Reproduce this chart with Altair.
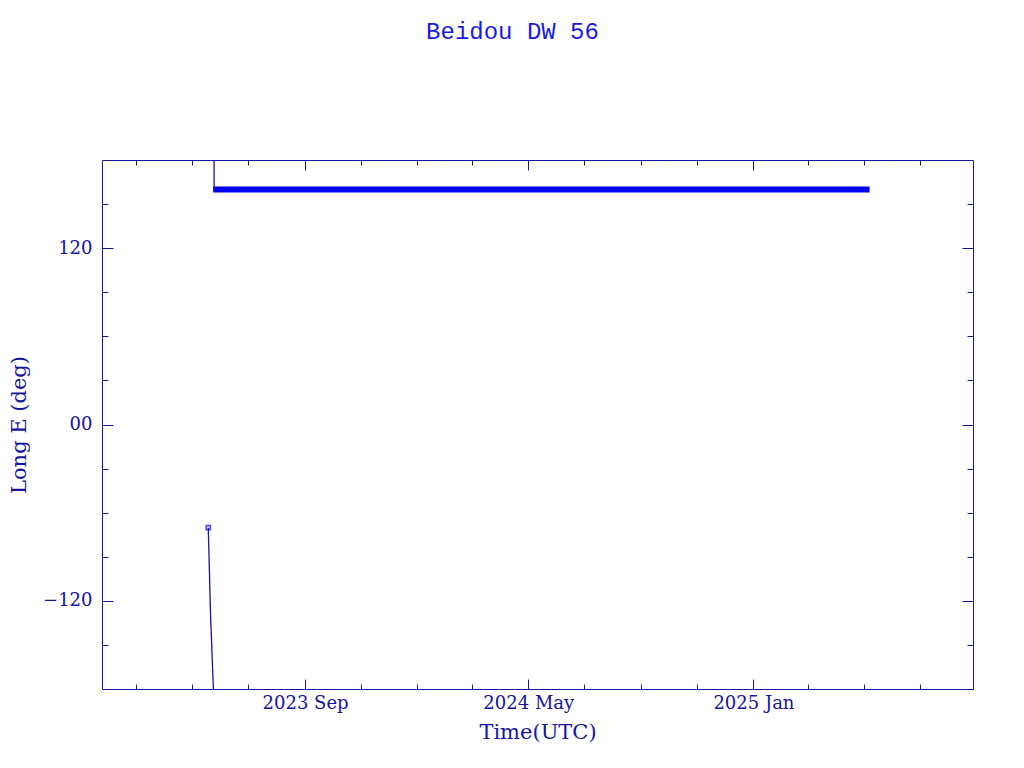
import altair as alt
import pandas as pd

# ---------------- data ----------------
chart_title = "Beidou DW 56"
x_title = "Time(UTC)"
y_title = "Long E (deg)"

# drifting arc (thin line)
desc_times = ["2023-05-18T16:00:00Z", "2023-05-21T06:00:00Z", "2023-05-24T06:00:00Z"]
desc_lon = [-70.2, -131.6, -180.0]

# wrap-around segment after crossing 180
wrap_times = ["2023-05-25T00:00:00Z", "2023-05-25T00:00:00Z"]
wrap_lon = [180.0, 160.0]

# station-kept longitude (thick band)
stat_times = ["2023-05-24T00:00:00Z", "2024-01-01T00:00:00Z", "2024-09-01T00:00:00Z", "2025-05-07T12:00:00Z"]
stat_lon = [160.0, 160.0, 160.0, 160.0]

# first observation marker
mark_times = ["2023-05-18T16:00:00Z"]
mark_lon = [-70.2]

# axis ticks
x_domain = [(2023, 1, 23), (2025, 8, 28)]
x_major = [(2023, 9), (2024, 5), (2025, 1)]
x_minor = [(2023, 3), (2023, 5), (2023, 7), (2023, 9), (2023, 11), (2024, 1), (2024, 3),
           (2024, 5), (2024, 7), (2024, 9), (2024, 11), (2025, 1), (2025, 3), (2025, 5), (2025, 7)]
y_major = [-120, 0, 120]
y_minor = [-150, -120, -90, -60, -30, 0, 30, 60, 90, 120, 150]

NAVY = "#15159e"
BLUE = "#0000f0"
TITLE_BLUE = "#1a1ae0"
SERIF = "DejaVu Serif"

# ---------------- scales ----------------
xs = alt.Scale(type="utc", domain=[alt.DateTime(year=y, month=m, date=d, utc=True) for y, m, d in x_domain])
ys = alt.Scale(domain=[-180, 180], nice=False, zero=False)

xmaj_vals = [alt.DateTime(year=y, month=m, date=1, utc=True) for y, m in x_major]
xmin_vals = [alt.DateTime(year=y, month=m, date=1, utc=True) for y, m in x_minor]


def tick_axis(orient, values, size):
    return alt.Axis(orient=orient, values=values, labels=False, domain=False, grid=False,
                    ticks=True, tickSize=alt.ExprRef(expr=str(-size)), tickColor=NAVY,
                    tickWidth=1, title=None)


x_label_axis = alt.Axis(orient="bottom", values=xmaj_vals, ticks=False, domain=False, grid=False,
                        labelExpr="utcFormat(datum.value, '%Y %b')", labelFont=SERIF,
                        labelFontSize=18, labelColor=NAVY, labelPadding=5,
                        title=x_title, titleFont=SERIF, titleFontSize=21, titleFontWeight="normal",
                        titleColor=NAVY, titleBaseline="alphabetic", titleY=49)
y_label_axis = alt.Axis(orient="left", values=y_major, ticks=False, domain=False, grid=False,
                        labelExpr="datum.value == 0 ? '00' : (datum.value < 0 ? '\u2212' + format(-datum.value, 'd') : format(datum.value, 'd'))",
                        labelFont=SERIF, labelFontSize=18, labelColor=NAVY, labelPadding=10,
                        labelBaseline="middle",
                        title=y_title, titleFont=SERIF, titleFontSize=21, titleFontWeight="normal",
                        titleColor=NAVY, titleBaseline="alphabetic", titleX=-77, titleAngle=270)

df_desc = pd.DataFrame({"t": desc_times, "lon": desc_lon, "o": range(len(desc_lon))})
df_wrap = pd.DataFrame({"t": wrap_times, "lon": wrap_lon, "o": range(len(wrap_lon))})
df_stat = pd.DataFrame({"t": stat_times, "lon": stat_lon, "o": range(len(stat_lon))})
df_mark = pd.DataFrame({"t": mark_times, "lon": mark_lon})

stat = alt.Chart(df_stat).mark_line(color=BLUE, strokeWidth=6, strokeCap="butt").encode(
    x=alt.X("t:T", scale=xs, axis=x_label_axis),
    y=alt.Y("lon:Q", scale=ys, axis=y_label_axis),
    order="o:O",
)
desc = alt.Chart(df_desc).mark_line(color=NAVY, strokeWidth=1.3).encode(
    x=alt.X("t:T", scale=xs, axis=tick_axis("bottom", xmaj_vals, 10)),
    y=alt.Y("lon:Q", scale=ys, axis=tick_axis("left", y_major, 11)),
    order="o:O",
)
wrap = alt.Chart(df_wrap).mark_line(color=NAVY, strokeWidth=1.3).encode(
    x=alt.X("t:T", scale=xs, axis=tick_axis("bottom", xmin_vals, 5)),
    y=alt.Y("lon:Q", scale=ys, axis=tick_axis("left", y_minor, 6)),
    order="o:O",
)
marker = alt.Chart(df_mark).mark_point(shape="square", filled=False, color=BLUE, size=16, strokeWidth=1.6).encode(
    x=alt.X("t:T", scale=xs, axis=tick_axis("top", xmaj_vals, 10)),
    y=alt.Y("lon:Q", scale=ys, axis=tick_axis("right", y_major, 11)),
)
ghost = alt.Chart(df_mark).mark_point(opacity=0).encode(
    x=alt.X("t:T", scale=xs, axis=tick_axis("top", xmin_vals, 5)),
    y=alt.Y("lon:Q", scale=ys, axis=tick_axis("right", y_minor, 6)),
)

chart = alt.layer(stat, desc, wrap, marker, ghost).resolve_axis(
    x="independent", y="independent"
).properties(
    width=871,
    height=529,
    autosize=alt.AutoSizeParams(type="none"),
    padding={"left": 94, "top": 152, "right": 43, "bottom": 71},
    title=alt.TitleParams(chart_title, font="Liberation Mono", fontSize=24, fontWeight="normal",
                          color=TITLE_BLUE, anchor="middle", baseline="alphabetic", offset=94, dx=-25),
).configure(
    background="white",
    view=alt.ViewConfig(stroke=NAVY, strokeWidth=1),
)

chart.save("out.html", embed_options={"renderer": "svg", "actions": False})
